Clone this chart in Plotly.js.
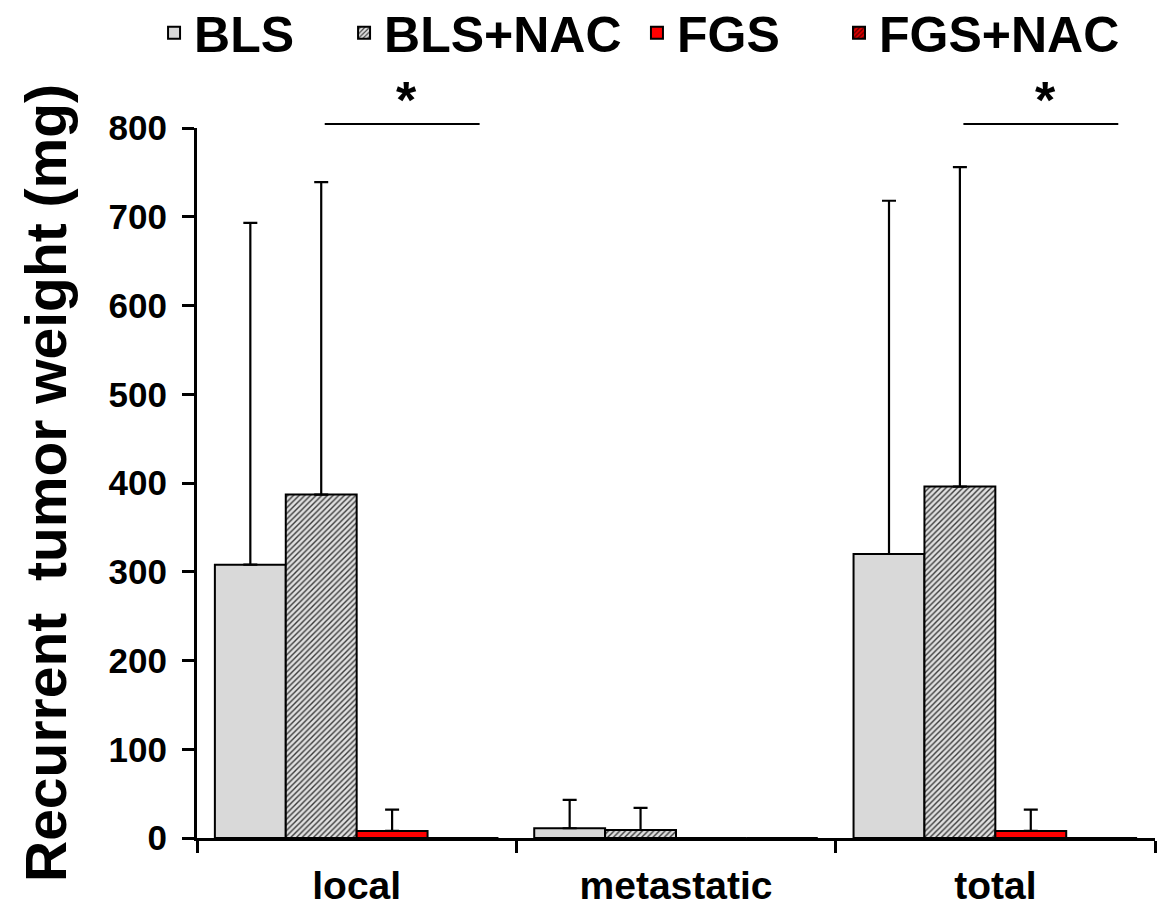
<!DOCTYPE html>
<html>
<head>
<meta charset="utf-8">
<script src="https://cdn.plot.ly/plotly-3.0.1.min.js"></script>
<style>html,body{margin:0;padding:0;background:#fff;}#chart{width:1160px;height:908px;}</style>
</head>
<body>
<div id="chart"></div>
<script>
const categories = ['local', 'metastatic', 'total'];
const seriesNames = ['BLS', 'BLS+NAC', 'FGS', 'FGS+NAC'];
const blsValues = [308, 11, 320];
const blsErrors = [385, 32, 398];
const blsNacValues = [387, 9, 396];
const blsNacErrors = [352, 25, 360];
const fgsValues = [8, 0, 8];
const fgsErrors = [24, 0, 24];
const fgsNacValues = [0, 0, 0];
const fgsNacErrors = [0, 0, 0];
const yTicks = [0, 100, 200, 300, 400, 500, 600, 700, 800];
const sigPairs = [
  {from: -0.10, to: 0.385, label: '*'},
  {from: 1.90, to: 2.385, label: '*'}
];

const FONT = 'Liberation Sans, Arial, Helvetica, sans-serif';
const zeros = [0, 0, 0];
const legendIds = ['legend', 'legend2', 'legend3', 'legend4'];
const legendX = [0.1328, 0.2966, 0.5491, 0.7233];

function mk(i, vals, errs, marker) {
  return {
    type: 'bar', name: seriesNames[i], x: categories, y: vals,
    marker: Object.assign({line: {color: '#000', width: 2}}, marker),
    error_y: {type: 'data', symmetric: false, array: errs, arrayminus: zeros,
              color: '#000', thickness: 2.2, width: 7, visible: true},
    legend: legendIds[i],
    hoverinfo: 'skip'
  };
}

const traces = [
  mk(0, blsValues, blsErrors, {color: '#d9d9d9'}),
  mk(1, blsNacValues, blsNacErrors,
     {color: '#d9d9d9', pattern: {shape: '/', fgcolor: '#3a3a3a', bgcolor: '#e0e0e0', size: 4, solidity: 0.35}}),
  mk(2, fgsValues, fgsErrors, {color: '#ff0000'}),
  mk(3, fgsNacValues, fgsNacErrors,
     {color: '#ff0000', pattern: {shape: '/', fgcolor: '#5a0000', bgcolor: '#e00000', size: 4, solidity: 0.4}})
];

const shapes = sigPairs.map(p => ({
  type: 'line', xref: 'x', yref: 'paper', x0: p.from, x1: p.to, y0: 1.0056, y1: 1.0056,
  line: {color: '#000', width: 2}
}));
const annotations = sigPairs.map(p => ({
  xref: 'x', yref: 'paper', x: p.from + 0.555 * (p.to - p.from) - 0.012, y: 1.04,
  text: p.label, showarrow: false, font: {family: FONT, size: 52, color: '#000', weight: 'bold'},
  xanchor: 'center', yanchor: 'middle'
}));

function legendAt(x) {
  return {
    orientation: 'h', xref: 'container', yref: 'container',
    x: x, xanchor: 'left', y: 0.964, yanchor: 'middle',
    font: {family: FONT, size: 50, color: '#000', weight: 'bold'},
    itemclick: false, itemdoubleclick: false,
    bgcolor: 'rgba(0,0,0,0)'
  };
}

const layout = {
  width: 1160, height: 908,
  margin: {l: 197, r: 5, t: 128, b: 70, pad: 0, autoexpand: false},
  paper_bgcolor: '#fff', plot_bgcolor: '#fff',
  font: {family: FONT, color: '#000', weight: 'bold'},
  barmode: 'group', bargap: 0.112, bargroupgap: 0,
  showlegend: true,
  xaxis: {
    type: 'category', showgrid: false, zeroline: false,
    showline: true, linecolor: '#000', linewidth: 3,
    ticks: 'outside', tickson: 'boundaries', ticklen: 12, tickwidth: 3, tickcolor: '#000',
    tickfont: {family: FONT, size: 39, color: '#000', weight: 'bold'},
    ticklabelstandoff: 11,
    fixedrange: true
  },
  yaxis: {
    range: [0, 800], tickvals: yTicks, ticktext: yTicks.map(String),
    showgrid: false, zeroline: false,
    showline: true, linecolor: '#000', linewidth: 3,
    ticks: 'outside', ticklen: 12, tickwidth: 3, tickcolor: '#000',
    tickfont: {family: FONT, size: 35, color: '#000', weight: 'bold'},
    ticklabelstandoff: 8,
    title: {text: 'Recurrent  tumor weight (mg)', font: {family: FONT, size: 57, color: '#000', weight: 'bold'}, standoff: 24},
    fixedrange: true
  },
  shapes: shapes,
  annotations: annotations
};
legendIds.forEach((id, i) => { layout[id] = legendAt(legendX[i]); });

Plotly.newPlot('chart', traces, layout, {displayModeBar: false, staticPlot: true});
</script>
</body>
</html>
